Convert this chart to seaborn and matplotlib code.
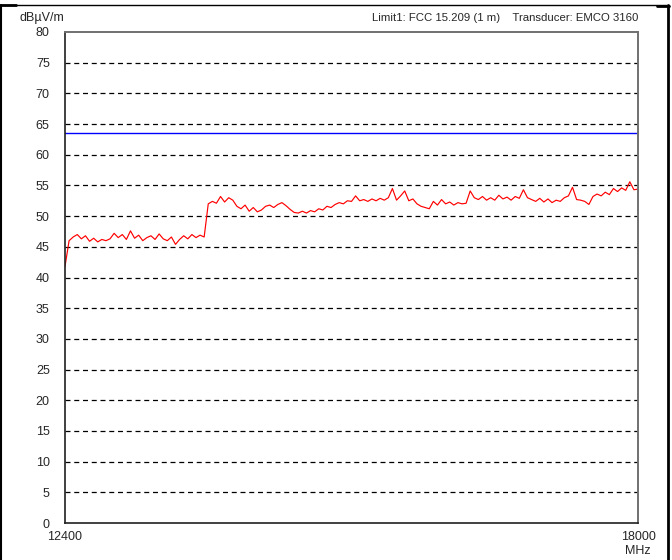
import numpy as np
import pandas as pd
import matplotlib
matplotlib.use("Agg")
import matplotlib.pyplot as plt
from matplotlib.lines import Line2D
import seaborn as sns

# Sweep 12.4 - 18 GHz, 40 MHz steps (141 points)
freq_start = 12400
freq_stop = 18000
level = [
    41.8, 46.0, 46.6, 47.0, 46.3, 46.8, 45.9, 46.4, 45.8, 46.2,
    46.0, 46.3, 47.2, 46.5, 47.0, 46.2, 47.6, 46.4, 46.9, 46.0,
    46.5, 46.8, 46.2, 47.1, 46.3, 46.0, 46.6, 45.4, 46.2, 46.8,
    46.3, 47.0, 46.5, 46.9, 46.6, 52.0, 52.4, 52.1, 53.2, 52.3,
    53.0, 52.6, 51.6, 51.2, 51.8, 50.8, 51.4, 50.7, 51.0, 51.6,
    51.8, 51.4, 51.9, 52.2, 51.7, 51.1, 50.6, 50.5, 50.8, 50.5,
    50.9, 50.7, 51.2, 51.0, 51.6, 51.4, 51.9, 52.2, 52.0, 52.5,
    52.4, 53.3, 52.5, 52.7, 52.4, 52.8, 52.5, 52.9, 52.6, 53.0,
    54.5, 52.6, 53.3, 54.1, 52.5, 52.8, 52.0, 51.6, 51.4, 51.2,
    52.4, 51.8, 52.7, 52.0, 52.3, 51.8, 52.2, 52.0, 52.1, 54.1,
    53.0, 52.7, 53.2, 52.6, 53.0, 52.6, 53.4, 52.8, 53.1, 52.6,
    53.2, 52.9, 54.3, 53.0, 52.7, 52.4, 52.9, 52.3, 52.8, 52.2,
    52.6, 52.4, 53.0, 53.3, 54.7, 52.7, 52.6, 52.4, 51.9, 53.2,
    53.6, 53.3, 53.9, 53.5, 54.5, 54.0, 54.6, 54.2, 55.6, 54.3,
    54.4,
]
limit_level = [63.5, 63.5]
y_ticks = [0, 5, 10, 15, 20, 25, 30, 35, 40, 45, 50, 55, 60, 65, 70, 75, 80]

freq = np.linspace(freq_start, freq_stop, len(level))
trace = pd.DataFrame({"MHz": freq, "level": level})
limit = pd.DataFrame({"MHz": [freq_start, freq_stop], "level": limit_level})

sns.set_style("white")
plt.rcParams["font.family"] = ["Liberation Sans", "DejaVu Sans"]

fig = plt.figure(figsize=(6.72, 5.6), dpi=100)
ax = fig.add_axes([65 / 672, 1 - 523 / 560, 573 / 672, 491 / 560])

sns.lineplot(data=trace, x="MHz", y="level", ax=ax, color="#ff0000", lw=0.85)
sns.lineplot(data=limit, x="MHz", y="level", ax=ax, color="#0000ff", lw=1.0)

ax.set_xlim(freq_start, freq_stop)
ax.set_ylim(0, 80)
ax.set_yticks(y_ticks)
ax.set_xticks([freq_start, freq_stop])
ax.set_xticklabels(["12400", "18000\nMHz"])
ax.set_xlabel("")
ax.set_ylabel("")
ax.tick_params(axis="y", length=0, pad=11, labelsize=9)
ax.tick_params(axis="x", length=0, pad=6, labelsize=9)

for v in y_ticks[1:-1]:
    ax.axhline(v, color="black", lw=0.9, dashes=(4, 3), zorder=0)

for side in ["left", "bottom"]:
    ax.spines[side].set_color("#202020")
    ax.spines[side].set_linewidth(1.2)
for side in ["top", "right"]:
    ax.spines[side].set_color("#707070")
    ax.spines[side].set_linewidth(1.4)

fig.text(20 / 672, 1 - 18 / 560, "dBµV/m", fontsize=9, va="center", ha="left")
fig.text(638 / 672, 1 - 18 / 560, "Limit1: FCC 15.209 (1 m)    Transducer: EMCO 3160",
         fontsize=8.2, va="center", ha="right")

# page frame
def px(x0, y0, x1, y1, lw):
    fig.add_artist(Line2D([x0 / 672, x1 / 672], [1 - y0 / 560, 1 - y1 / 560],
                          color="black", lw=lw, transform=fig.transFigure))

px(0, 5, 669, 5, 1.0)
px(0, 5, 16, 5, 2.0)
px(657, 5.5, 669, 5.5, 2.0)
px(1, 5, 1, 560, 1.5)
px(668, 5, 668, 560, 2.0)

fig.savefig("out.png", dpi=100)
